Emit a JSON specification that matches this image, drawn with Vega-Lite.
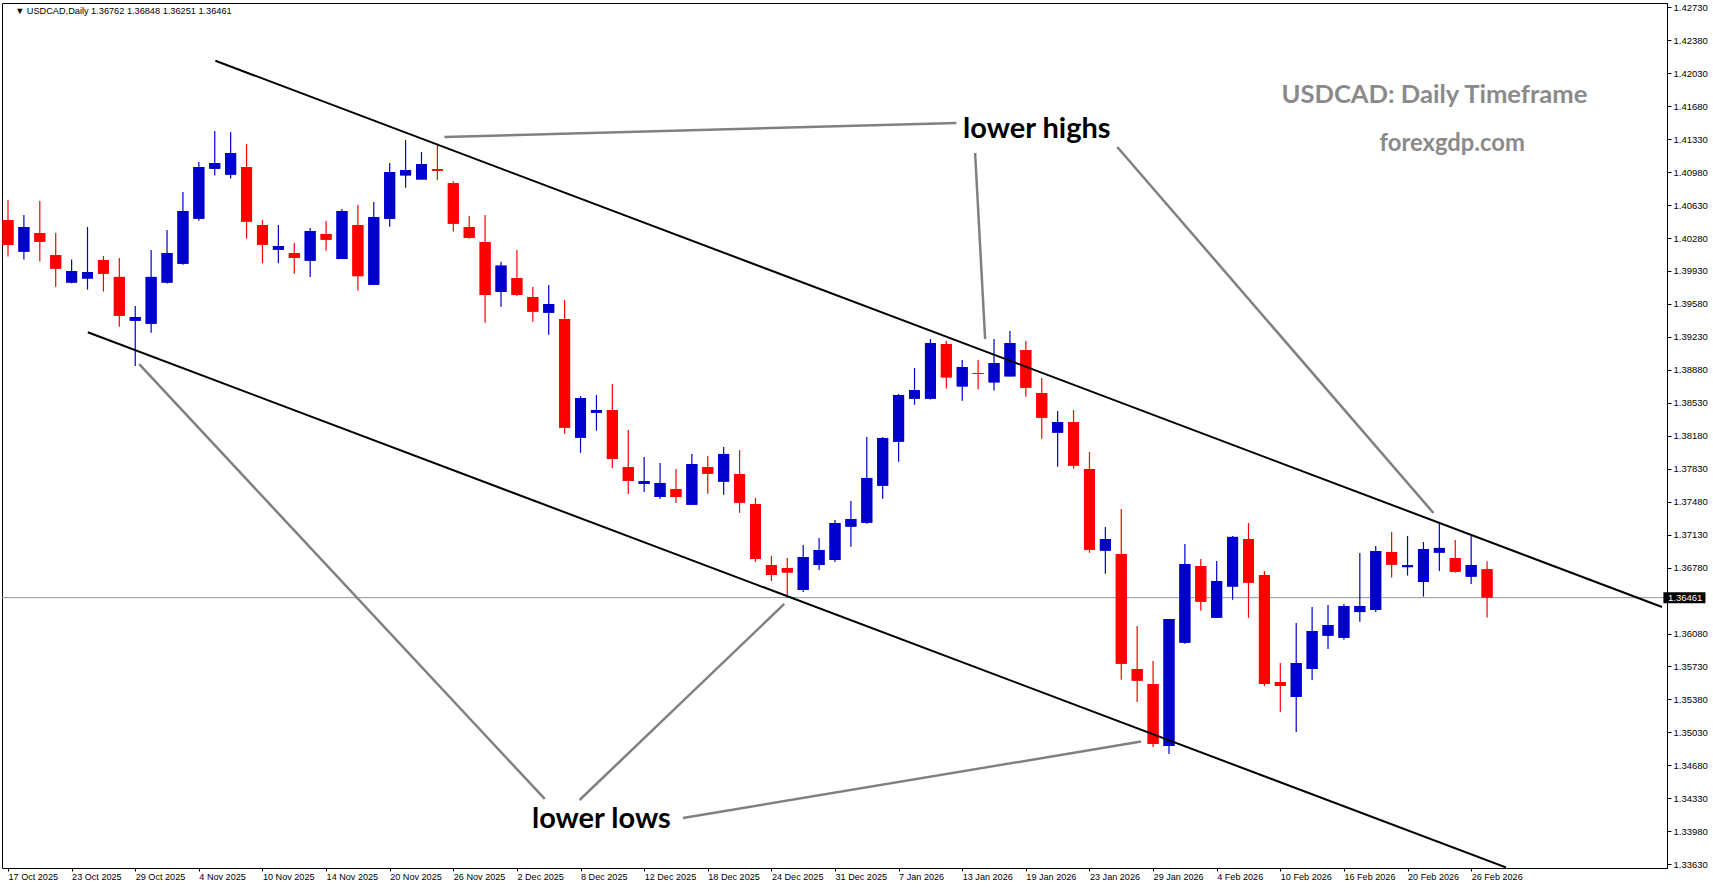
{
  "$schema": "https://vega.github.io/schema/vega-lite/v6.json",
  "autosize": {"type": "none"},
  "padding": {"left": 2, "top": 3, "right": 46, "bottom": 20},
  "width": 1665,
  "height": 865,
  "background": "white",
  "config": {
    "view": {"stroke": "black", "strokeWidth": 1},
    "axis": {"grid": false, "labelFont": "Liberation Sans", "labelFontSize": 9.5, "labelColor": "black", "tickColor": "black", "domainColor": "black"}
  },
  "datasets": {
    "candles": [
      {"i":0,"o":1.40471,"h":1.40684,"l":1.40085,"c":1.40206},
      {"i":1,"o":1.40135,"h":1.40524,"l":1.40053,"c":1.40397},
      {"i":2,"o":1.40333,"h":1.40673,"l":1.40032,"c":1.40241},
      {"i":3,"o":1.40100,"h":1.40333,"l":1.39763,"c":1.39954},
      {"i":4,"o":1.39807,"h":1.40053,"l":1.39800,"c":1.39930},
      {"i":5,"o":1.39850,"h":1.40397,"l":1.39732,"c":1.39919},
      {"i":6,"o":1.40047,"h":1.40089,"l":1.39711,"c":1.39901},
      {"i":7,"o":1.39867,"h":1.40068,"l":1.39339,"c":1.39455},
      {"i":8,"o":1.39402,"h":1.39558,"l":1.38921,"c":1.39441},
      {"i":9,"o":1.39370,"h":1.40153,"l":1.39275,"c":1.39867},
      {"i":10,"o":1.39807,"h":1.40365,"l":1.39796,"c":1.40121},
      {"i":11,"o":1.40007,"h":1.40769,"l":1.39997,"c":1.40567},
      {"i":12,"o":1.40485,"h":1.41087,"l":1.40464,"c":1.41034},
      {"i":13,"o":1.41016,"h":1.41416,"l":1.40945,"c":1.41077},
      {"i":14,"o":1.40953,"h":1.41406,"l":1.40912,"c":1.41183},
      {"i":15,"o":1.41034,"h":1.41278,"l":1.40273,"c":1.40454},
      {"i":16,"o":1.40418,"h":1.40471,"l":1.40013,"c":1.40209},
      {"i":17,"o":1.40156,"h":1.40418,"l":1.40013,"c":1.40195},
      {"i":18,"o":1.40121,"h":1.40227,"l":1.39901,"c":1.40070},
      {"i":19,"o":1.40039,"h":1.40386,"l":1.39866,"c":1.40355},
      {"i":20,"o":1.40323,"h":1.40461,"l":1.40146,"c":1.40262},
      {"i":21,"o":1.40057,"h":1.40588,"l":1.40057,"c":1.40567},
      {"i":22,"o":1.40418,"h":1.40631,"l":1.39722,"c":1.39875},
      {"i":23,"o":1.39784,"h":1.40662,"l":1.39784,"c":1.40503},
      {"i":24,"o":1.40485,"h":1.41077,"l":1.40400,"c":1.40981},
      {"i":25,"o":1.40945,"h":1.41321,"l":1.40814,"c":1.41002},
      {"i":26,"o":1.40902,"h":1.41193,"l":1.40902,"c":1.41066},
      {"i":27,"o":1.41013,"h":1.41278,"l":1.40896,"c":1.40995},
      {"i":28,"o":1.40862,"h":1.40883,"l":1.40349,"c":1.40432},
      {"i":29,"o":1.40397,"h":1.40514,"l":1.40272,"c":1.40282},
      {"i":30,"o":1.40238,"h":1.40524,"l":1.39381,"c":1.39675},
      {"i":31,"o":1.39707,"h":1.40029,"l":1.39551,"c":1.39987},
      {"i":32,"o":1.39856,"h":1.40153,"l":1.39664,"c":1.39675},
      {"i":33,"o":1.39654,"h":1.39760,"l":1.39391,"c":1.39498},
      {"i":34,"o":1.39487,"h":1.39781,"l":1.39253,"c":1.39579},
      {"i":35,"o":1.39420,"h":1.39622,"l":1.38202,"c":1.38266},
      {"i":36,"o":1.38159,"h":1.38602,"l":1.38000,"c":1.38581},
      {"i":37,"o":1.38425,"h":1.38613,"l":1.38234,"c":1.38454},
      {"i":38,"o":1.38454,"h":1.38730,"l":1.37838,"c":1.37934},
      {"i":39,"o":1.37848,"h":1.38241,"l":1.37561,"c":1.37700},
      {"i":40,"o":1.37668,"h":1.37955,"l":1.37583,"c":1.37700},
      {"i":41,"o":1.37530,"h":1.37891,"l":1.37509,"c":1.37679},
      {"i":42,"o":1.37615,"h":1.37827,"l":1.37466,"c":1.37530},
      {"i":43,"o":1.37448,"h":1.37987,"l":1.37448,"c":1.37880},
      {"i":44,"o":1.37848,"h":1.37966,"l":1.37565,"c":1.37777},
      {"i":45,"o":1.37693,"h":1.38061,"l":1.37555,"c":1.37987},
      {"i":46,"o":1.37774,"h":1.38029,"l":1.37362,"c":1.37469},
      {"i":47,"o":1.37455,"h":1.37519,"l":1.36840,"c":1.36872},
      {"i":48,"o":1.36808,"h":1.36904,"l":1.36638,"c":1.36702},
      {"i":49,"o":1.36776,"h":1.36882,"l":1.36457,"c":1.36728},
      {"i":50,"o":1.36542,"h":1.37020,"l":1.36521,"c":1.36893},
      {"i":51,"o":1.36808,"h":1.37094,"l":1.36755,"c":1.36967},
      {"i":52,"o":1.36861,"h":1.37286,"l":1.36840,"c":1.37254},
      {"i":53,"o":1.37215,"h":1.37487,"l":1.37002,"c":1.37296},
      {"i":54,"o":1.37257,"h":1.38167,"l":1.37246,"c":1.37732},
      {"i":55,"o":1.37649,"h":1.38167,"l":1.37512,"c":1.38156},
      {"i":56,"o":1.38117,"h":1.38624,"l":1.37905,"c":1.38613},
      {"i":57,"o":1.38574,"h":1.38900,"l":1.38510,"c":1.38665},
      {"i":58,"o":1.38574,"h":1.39208,"l":1.38564,"c":1.39165},
      {"i":59,"o":1.39155,"h":1.39187,"l":1.38683,"c":1.38800},
      {"i":60,"o":1.38704,"h":1.38985,"l":1.38552,"c":1.38910},
      {"i":61,"o":1.38847,"h":1.38985,"l":1.38672,"c":1.38836},
      {"i":62,"o":1.38747,"h":1.39208,"l":1.38662,"c":1.38953},
      {"i":63,"o":1.38811,"h":1.39293,"l":1.38811,"c":1.39165},
      {"i":64,"o":1.39091,"h":1.39187,"l":1.38595,"c":1.38691},
      {"i":65,"o":1.38634,"h":1.38794,"l":1.38149,"c":1.38372},
      {"i":66,"o":1.38213,"h":1.38443,"l":1.37852,"c":1.38326},
      {"i":67,"o":1.38326,"h":1.38454,"l":1.37831,"c":1.37863},
      {"i":68,"o":1.37827,"h":1.38008,"l":1.36938,"c":1.36970},
      {"i":69,"o":1.36960,"h":1.37211,"l":1.36715,"c":1.37084},
      {"i":70,"o":1.36925,"h":1.37402,"l":1.35590,"c":1.35760},
      {"i":71,"o":1.35703,"h":1.36160,"l":1.35353,"c":1.35579},
      {"i":72,"o":1.35544,"h":1.35788,"l":1.34875,"c":1.34907},
      {"i":73,"o":1.34886,"h":1.36234,"l":1.34801,"c":1.36234},
      {"i":74,"o":1.35983,"h":1.37030,"l":1.35972,"c":1.36818},
      {"i":75,"o":1.36797,"h":1.36871,"l":1.36323,"c":1.36418},
      {"i":76,"o":1.36248,"h":1.36850,"l":1.36248,"c":1.36638},
      {"i":77,"o":1.36579,"h":1.37116,"l":1.36439,"c":1.37106},
      {"i":78,"o":1.37084,"h":1.37254,"l":1.36248,"c":1.36620},
      {"i":79,"o":1.36702,"h":1.36744,"l":1.35523,"c":1.35544},
      {"i":80,"o":1.35565,"h":1.35767,"l":1.35247,"c":1.35523},
      {"i":81,"o":1.35406,"h":1.36192,"l":1.35034,"c":1.35767},
      {"i":82,"o":1.35703,"h":1.36362,"l":1.35586,"c":1.36107},
      {"i":83,"o":1.36057,"h":1.36383,"l":1.35916,"c":1.36170},
      {"i":84,"o":1.36036,"h":1.36394,"l":1.36015,"c":1.36372},
      {"i":85,"o":1.36308,"h":1.36935,"l":1.36206,"c":1.36372},
      {"i":86,"o":1.36330,"h":1.37010,"l":1.36308,"c":1.36956},
      {"i":87,"o":1.36946,"h":1.37158,"l":1.36674,"c":1.36811},
      {"i":88,"o":1.36785,"h":1.37116,"l":1.36696,"c":1.36806},
      {"i":89,"o":1.36627,"h":1.37052,"l":1.36473,"c":1.36978},
      {"i":90,"o":1.36939,"h":1.37254,"l":1.36743,"c":1.36989},
      {"i":91,"o":1.36882,"h":1.37073,"l":1.36726,"c":1.36737},
      {"i":92,"o":1.36684,"h":1.37116,"l":1.36606,"c":1.36808},
      {"i":93,"o":1.36762,"h":1.36848,"l":1.36251,"c":1.36461}
    ],
    "channel": [
      {"seg":"upper","i":13.04,"p":1.42163},
      {"seg":"upper","i":104,"p":1.36362},
      {"seg":"lower","i":5.02,"p":1.39279},
      {"seg":"lower","i":94.19,"p":1.33596}
    ],
    "pointers": [
      {"seg":"a1","i":27.44,"p":1.41353},
      {"seg":"a1","i":59.63,"p":1.41501},
      {"seg":"a2","i":60.81,"p":1.41183},
      {"seg":"a2","i":61.44,"p":1.39208},
      {"seg":"a3","i":69.75,"p":1.41247},
      {"seg":"a3","i":89.63,"p":1.37360},
      {"seg":"a4","i":8.25,"p":1.38940},
      {"seg":"a4","i":33.75,"p":1.34323},
      {"seg":"a5","i":35.94,"p":1.34312},
      {"seg":"a5","i":48.81,"p":1.36394},
      {"seg":"a6","i":42.44,"p":1.34121},
      {"seg":"a6","i":71.25,"p":1.34933}
    ],
    "labels": [
      {"label":"lower highs","i":64.69,"p":1.41438},
      {"label":"lower lows","i":37.31,"p":1.34111}
    ],
    "last": [{"price":1.36461}]
  },
  "layer": [
    {
      "data": {"name": "candles"},
      "mark": {"type": "bar", "width": 11},
      "encoding": {
        "x": {"field": "i", "type": "quantitative", "scale": {"domain": [-0.0625, 104], "nice": false, "zero": false},
          "axis": {"orient": "bottom", "title": null, "tickCount": 40, "values": [0,4,8,12,16,20,24,28,32,36,40,44,48,52,56,60,64,68,72,76,80,84,88,92],
            "labelExpr": "['17 Oct 2025','23 Oct 2025','29 Oct 2025','4 Nov 2025','10 Nov 2025','14 Nov 2025','20 Nov 2025','26 Nov 2025','2 Dec 2025','8 Dec 2025','12 Dec 2025','18 Dec 2025','24 Dec 2025','31 Dec 2025','7 Jan 2026','13 Jan 2026','19 Jan 2026','23 Jan 2026','29 Jan 2026','4 Feb 2026','10 Feb 2026','16 Feb 2026','20 Feb 2026','26 Feb 2026'][round(datum.value/4)]",
            "labelAlign": "left", "labelBaseline": "top", "labelPadding": 1, "labelDx": 0, "labelFontSize": 9.1, "tickSize": 3, "domain": false, "labelOverlap": false}},
        "y": {"field": "o", "type": "quantitative", "scale": {"domain": [1.3359, 1.42776], "nice": false, "zero": false},
          "axis": {"orient": "right", "title": null, "tickCount": 40, "values": [1.3363,1.3398,1.3433,1.3468,1.3503,1.3538,1.3573,1.3608,1.3678,1.3713,1.3748,1.3783,1.3818,1.3853,1.3888,1.3923,1.3958,1.3993,1.4028,1.4063,1.4098,1.4133,1.4168,1.4203,1.4238,1.4273], "format": ".5f", "tickSize": 4, "labelPadding": 2, "domain": true, "labelOverlap": false}},
        "y2": {"field": "c"},
        "color": {"condition": {"test": "datum.c >= datum.o", "value": "#0000CC"}, "value": "#FF0000"}
      }
    },
    {
      "data": {"name": "last"},
      "mark": {"type": "rule", "color": "#8C979C", "strokeWidth": 1},
      "encoding": {
        "y": {"field": "price", "type": "quantitative"}
      }
    },
    {
      "data": {"name": "candles"},
      "mark": {"type": "rule", "strokeWidth": 1.2},
      "encoding": {
        "x": {"field": "i", "type": "quantitative"},
        "y": {"field": "l", "type": "quantitative"},
        "y2": {"field": "h"},
        "color": {"condition": {"test": "datum.c >= datum.o", "value": "#0000CC"}, "value": "#FF0000"}
      }
    },
    {
      "data": {"name": "candles"},
      "mark": {"type": "bar", "width": 11},
      "encoding": {
        "x": {"field": "i", "type": "quantitative"},
        "y": {"field": "o", "type": "quantitative"},
        "y2": {"field": "c"},
        "color": {"condition": {"test": "datum.c >= datum.o", "value": "#0000CC"}, "value": "#FF0000"}
      }
    },
    {
      "data": {"name": "channel"},
      "mark": {"type": "line", "color": "black", "strokeWidth": 2, "clip": true},
      "encoding": {
        "x": {"field": "i", "type": "quantitative"},
        "y": {"field": "p", "type": "quantitative"},
        "detail": {"field": "seg"}
      }
    },
    {
      "data": {"name": "pointers"},
      "mark": {"type": "line", "color": "#808080", "strokeWidth": 2.5, "clip": true},
      "encoding": {
        "x": {"field": "i", "type": "quantitative"},
        "y": {"field": "p", "type": "quantitative"},
        "detail": {"field": "seg"}
      }
    },
    {
      "data": {"name": "labels"},
      "mark": {"type": "text", "font": "Lato", "fontWeight": "bold", "fontSize": 29, "color": "black", "align": "center", "baseline": "middle"},
      "encoding": {
        "x": {"field": "i", "type": "quantitative"},
        "y": {"field": "p", "type": "quantitative"},
        "text": {"field": "label"}
      }
    },
    {
      "data": {"values": [{"t": "USDCAD: Daily Timeframe"}]},
      "mark": {"type": "text", "font": "Lato", "fontWeight": "bold", "fontSize": 25.6, "color": "#8A8A8A", "align": "center", "baseline": "middle"},
      "encoding": {
        "x": {"datum": 89.69, "type": "quantitative"},
        "y": {"datum": 1.41799, "type": "quantitative"},
        "text": {"field": "t"}
      }
    },
    {
      "data": {"values": [{"t": "forexgdp.com"}]},
      "mark": {"type": "text", "font": "Lato", "fontWeight": "bold", "fontSize": 23.8, "color": "#8A8A8A", "align": "center", "baseline": "middle"},
      "encoding": {
        "x": {"datum": 90.81, "type": "quantitative"},
        "y": {"datum": 1.41278, "type": "quantitative"},
        "text": {"field": "t"}
      }
    },
    {
      "data": {"values": [{"t": "▼  USDCAD,Daily  1.36762 1.36848 1.36251 1.36461"}]},
      "mark": {"type": "text", "font": "Liberation Sans", "fontSize": 9.2, "color": "black", "align": "left", "baseline": "middle"},
      "encoding": {
        "x": {"datum": 0.45, "type": "quantitative"},
        "y": {"datum": 1.42696, "type": "quantitative"},
        "text": {"field": "t"}
      }
    },
    {
      "data": {"name": "last"},
      "mark": {"type": "tick", "orient": "horizontal", "size": 42, "thickness": 11, "color": "black", "opacity": 1},
      "encoding": {
        "x": {"datum": 105.41, "type": "quantitative"},
        "y": {"field": "price", "type": "quantitative"}
      }
    },
    {
      "data": {"name": "last"},
      "mark": {"type": "text", "font": "Liberation Sans", "fontSize": 9.5, "color": "white", "align": "left", "baseline": "middle"},
      "encoding": {
        "x": {"datum": 104.375, "type": "quantitative"},
        "y": {"field": "price", "type": "quantitative"},
        "text": {"field": "price", "format": ".5f"}
      }
    }
  ]
}
